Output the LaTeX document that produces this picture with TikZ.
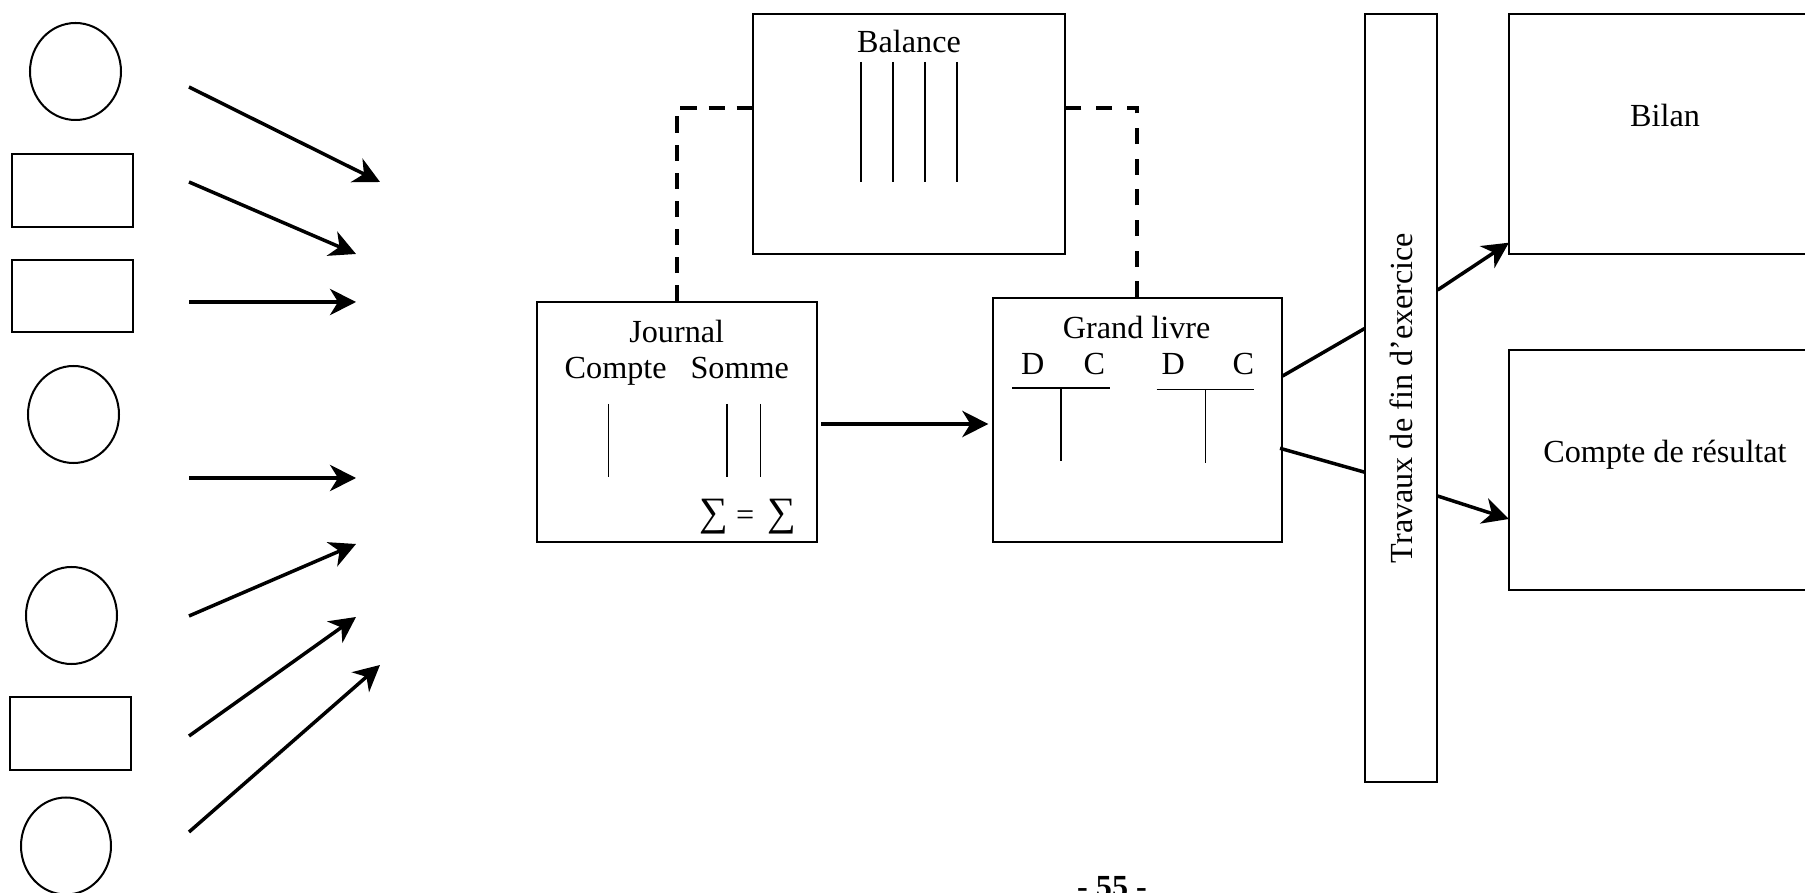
\documentclass[tikz,border=0pt]{standalone}
\usepackage{fontspec}
\setmainfont{Liberation Serif}
\usetikzlibrary{arrows.meta,shapes.geometric,calc}
\newlength\unitpx
\setlength\unitpx{0.3727pt}
\begin{document}
\begin{tikzpicture}[x=0.3727pt, y=-0.3727pt,
  font=\fontsize{12}{14}\selectfont,
  box/.style={draw, line width=0.75pt, inner sep=0pt},
  oval/.style={draw, ellipse, line width=0.75pt, inner sep=0pt,
    minimum width=91*\unitpx, minimum height=97*\unitpx},
  arrow/.style={-{Stealth[length=9.7pt, width=9.8pt, inset=3pt]}, line width=1.3pt},
  link/.style={line width=1.3pt},
  dashline/.style={line width=1.3pt},
  ruling/.style={line width=0.55pt},
  label/.style={anchor=base, inner sep=0pt}]
\useasboundingbox (0,0) rectangle (1805,893);
% sources on the left
\node[oval] (c1) at (75.5,71.5) {};
\node[box, minimum width=121*\unitpx, minimum height=73*\unitpx] (r1) at (72.5,190.5) {};
\node[box, minimum width=121*\unitpx, minimum height=72*\unitpx] (r2) at (72.5,296) {};
\node[oval] (c2) at (73.5,414.5) {};
\node[oval] (c3) at (71.5,615.5) {};
\node[box, minimum width=121*\unitpx, minimum height=73*\unitpx] (r3) at (70.5,733.5) {};
\node[oval, minimum width=90*\unitpx] (c4) at (66,846) {};
\coordinate (s1) at (189,87);  \coordinate (e1) at (380,182);
\coordinate (s2) at (189,182); \coordinate (e2) at (356,254);
\coordinate (s3) at (189,302); \coordinate (e3) at (356,302);
\coordinate (s4) at (189,478); \coordinate (e4) at (356,478);
\coordinate (s5) at (189,616); \coordinate (e5) at (356,544);
\coordinate (s6) at (189,736); \coordinate (e6) at (356,617);
\coordinate (s7) at (189,832); \coordinate (e7) at (380,665);
\foreach \i in {1,...,7} \draw[arrow] (s\i) -- (e\i);
% balance
\node[box, minimum width=312.6*\unitpx, minimum height=240*\unitpx] (balance) at (909,134) {};
\node[label] (baltxt) at (909,53) {Balance};
\foreach \x in {861,893,925,957} \draw[ruling] (\x,62) -- (\x,182);
% journal
\node[box, minimum width=280.3*\unitpx, minimum height=240*\unitpx] (journal) at (676.9,422.3) {};
\node[label] (jtxt) at (676.7,342.3) {Journal};
\node[label] (compte) at (615.7,378.3) {Compte};
\node[label] (somme) at (739.7,378.3) {Somme};
\node[label] (sums) at (748,526) {{\fontsize{15}{15}\selectfont ∑} = \,{\fontsize{15}{15}\selectfont ∑}};
\foreach \x in {608.7,727,760.7} \draw[ruling] (\x,404) -- (\x,477);
% grand livre
\node[box, minimum width=289*\unitpx, minimum height=244*\unitpx] (grand) at (1137.2,420.3) {};
\node[label] (gtxt) at (1136.7,338.3) {Grand livre};
\node[label] (d1) at (1032.7,375) {D};
\node[label] (k1) at (1094.3,375) {C};
\node[label] (d2) at (1173.3,375) {D};
\node[label] (k2) at (1243.3,375) {C};
\draw[ruling] (1012.3,388) -- (1110,388) (1061,388) -- (1061,460.7);
\draw[ruling] (1156.7,389.7) -- (1254,389.7) (1205.3,389.7) -- (1205.3,462.7);
\draw[arrow] (821,424) -- (988.3,424);
\draw[dashline, dash pattern=on 6pt off 4.48pt] (journal.north) |- ($(balance.north west)+(0,95)$);
\draw[dashline, dash pattern=on 6pt off 5.42pt] (grand.north) |- ($(balance.north east)+(0,95)$);
% travaux de fin d'exercice
\node[box, rotate=90, minimum width=768*\unitpx, minimum height=72.5*\unitpx] (travaux) at (1401.2,398) {Travaux de fin d’exercice};
% etats de synthese
\node[box, minimum width=391*\unitpx, minimum height=240*\unitpx] (bilan) at (1704.5,134) {};
\node[label] (biltxt) at (1665,127) {Bilan};
\node[box, minimum width=391*\unitpx, minimum height=240*\unitpx] (resultat) at (1704.5,470) {};
\node[label] (restxt) at (1665,463) {Compte de résultat};
\coordinate (gu) at (1282.6,376);  \coordinate (tu1) at (1365,328.3);
\coordinate (tu2) at (1437.6,290); \coordinate (bu) at (1508.9,242.7);
\coordinate (gd) at (1280,448.3);  \coordinate (td1) at (1365,472.3);
\coordinate (td2) at (1437.6,496); \coordinate (bd) at (1508.9,519);
\draw[link] (gu) -- (tu1);
\draw[arrow] (tu2) -- (bu);
\draw[link] (gd) -- (td1);
\draw[arrow] (td2) -- (bd);
% page number
\node[label, font=\fontsize{12}{14}\selectfont\bfseries] (page) at (1112,897) {- 55 -};
\end{tikzpicture}
\end{document}
